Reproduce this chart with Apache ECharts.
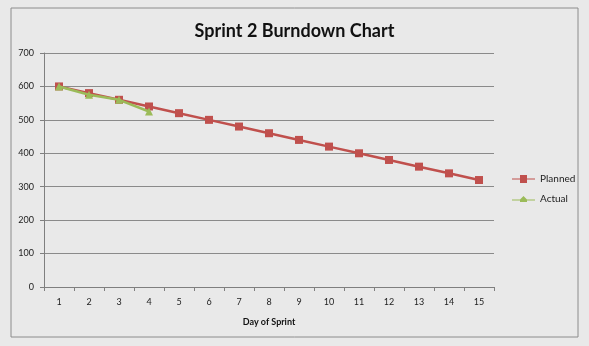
<!DOCTYPE html>
<html>
<head>
<meta charset="utf-8">
<script src="https://cdn.jsdelivr.net/npm/echarts@6/dist/echarts.min.js"></script>
<style>
  html, body { margin: 0; padding: 0; background: #e9e9e9; }
  #chart { width: 589px; height: 346px; }
</style>
</head>
<body>
<div id="chart"></div>
<script>
// Sprint days and remaining work
const days = ['1','2','3','4','5','6','7','8','9','10','11','12','13','14','15'];
const planned = [600, 580, 560, 540, 520, 500, 480, 460, 440, 420, 400, 380, 360, 340, 320];
const actual = [600, 575, 560, 525];
const yTicks = { min: 0, max: 700, interval: 100 };

const chart = echarts.init(document.getElementById('chart'));
const font = 'Lato, "Open Sans", sans-serif';

chart.setOption({
  backgroundColor: '#e9e9e9',
  animation: false,
  graphic: [{
    type: 'rect',
    shape: { x: 11, y: 8, width: 567, height: 329 },
    style: { fill: 'none', stroke: '#8c8c8c', lineWidth: 1 },
    silent: true
  }],
  title: {
    text: 'Sprint 2 Burndown Chart',
    left: 'center', top: 17,
    textStyle: { fontFamily: font, fontWeight: 'bold', fontSize: 18, color: '#111' }
  },
  legend: {
    orient: 'vertical',
    left: 507, top: 169,
    itemGap: 10,
    itemWidth: 23, itemHeight: 8,
    textStyle: { fontFamily: font, fontSize: 10, color: '#222' },
    data: [
      { name: 'Planned', icon: 'path://M0,3.5L8,3.5L8,0L15,0L15,3.5L23,3.5L23,4.5L15,4.5L15,8L8,8L8,4.5L0,4.5Z' },
      { name: 'Actual', icon: 'path://M0,3.5L8,3.5L11.5,0L15,3.5L23,3.5L23,4.5L15,4.5L15,6L8,6L8,4.5L0,4.5Z' }
    ]
  },
  grid: { left: 44, top: 53, width: 450, height: 234, containLabel: false },
  xAxis: {
    type: 'category',
    data: days,
    boundaryGap: true,
    name: 'Day of Sprint',
    nameLocation: 'middle',
    nameGap: 31,
    nameTextStyle: { fontFamily: font, fontWeight: 'bold', fontSize: 9, color: '#111' },
    axisLine: { lineStyle: { color: '#7f7f7f', width: 1 } },
    axisTick: { show: true, alignWithLabel: false, length: 4, lineStyle: { color: '#7f7f7f' } },
    axisLabel: { fontFamily: font, fontSize: 9, color: '#222', margin: 11 },
    splitLine: { show: false }
  },
  yAxis: {
    type: 'value',
    min: yTicks.min, max: yTicks.max, interval: yTicks.interval,
    axisLine: { show: true, lineStyle: { color: '#7f7f7f', width: 1 } },
    axisTick: { show: true, length: 4, lineStyle: { color: '#7f7f7f' } },
    axisLabel: { fontFamily: font, fontSize: 9, color: '#222', margin: 10 },
    splitLine: { show: true, lineStyle: { color: '#8a8a8a', width: 1 } }
  },
  series: [
    {
      name: 'Planned',
      type: 'line',
      data: planned,
      symbol: 'rect',
      symbolSize: 8,
      color: '#c0504d',
      lineStyle: { width: 2.5, color: '#c0504d' },
      itemStyle: { color: '#c0504d' },
      z: 2
    },
    {
      name: 'Actual',
      type: 'line',
      data: actual,
      symbol: 'triangle',
      symbolSize: 8,
      color: '#9bbb59',
      lineStyle: { width: 2.5, color: '#9bbb59' },
      itemStyle: { color: '#9bbb59' },
      z: 3
    }
  ]
});
</script>
</body>
</html>
